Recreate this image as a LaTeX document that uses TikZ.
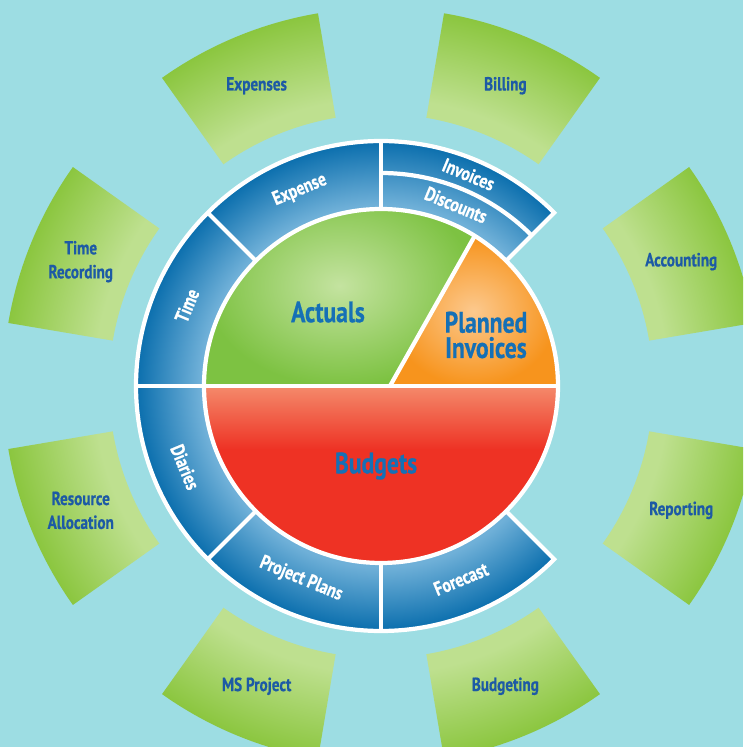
\documentclass[tikz,border=0pt]{standalone}
\usepackage{fontspec}
\setmainfont{PT Sans}[FakeStretch=0.8, BoldFeatures={FakeBold=0.6}]
\definecolor{bgcyan}{HTML}{9DDDE3}
\definecolor{tiledark}{HTML}{8BC63F}
\definecolor{tilelight}{HTML}{BEE08F}
\definecolor{tiletext}{HTML}{1D5AA5}
\definecolor{ringdark}{HTML}{0A6EAD}
\definecolor{ringlight}{HTML}{6FB0D8}
\definecolor{pietext}{HTML}{1570B6}
\definecolor{actdark}{HTML}{7DC242}
\definecolor{actlight}{HTML}{C4E3A0}
\definecolor{plandark}{HTML}{F7941D}
\definecolor{planlight}{HTML}{FCC98E}
\definecolor{budmain}{HTML}{EE3224}
\definecolor{budlight}{HTML}{F48A6B}
\pgfdeclareradialshading{tileshade}{\pgfpoint{0bp}{0bp}}{color(0bp)=(tilelight); color(19bp)=(tilelight); color(25bp)=(tiledark); color(50bp)=(tiledark)}
\pgfdeclareradialshading{ringshade}{\pgfpoint{0bp}{0bp}}{color(0bp)=(ringlight); color(18.5bp)=(ringlight); color(25bp)=(ringdark); color(50bp)=(ringdark)}
\pgfdeclareverticalshading{budgetshade}{100bp}{color(0bp)=(budmain); color(57bp)=(budmain); color(75bp)=(budlight); color(100bp)=(budlight)}
\tikzset{
  tilelabel/.style={text=tiletext, font=\bfseries\fontsize{13.5}{17}\selectfont, align=center},
  ringlabel/.style={text=white, font=\bfseries\fontsize{14}{15}\selectfont},
  pielabel/.style={text=pietext, font=\bfseries\fontsize{21}{18}\selectfont, align=center},
  whiteline/.style={draw=white, line width=3pt}
}
\begin{document}
\begin{tikzpicture}[x=0.025cm, y=0.025cm]
  \useasboundingbox (-381,-361) rectangle (362,386);
  \clip (-381,-361) rectangle (362,386);
  \fill[bgcyan] (-381,-361) rectangle (362,386);
  % outer tiles
  \begin{scope}
    \clip \foreach \a in {22.5,67.5,...,337.5} {({\a-12.9}:272) -- ({\a-12.9}:378) arc[start angle=\a-12.9, end angle=\a+12.9, radius=378] -- ({\a+12.9}:272) arc[start angle=\a+12.9, end angle=\a-12.9, radius=272] -- cycle};
    \shade[shading=tileshade] (0,0) circle (378);
  \end{scope}
  % blue ring
  \begin{scope}
    \clip (45:177) -- (45:245) arc[start angle=45, end angle=315, radius=245] -- (315:177) arc[start angle=315, end angle=45, radius=177] -- cycle;
    \shade[shading=ringshade] (0,0) circle (245);
  \end{scope}
  % pie
  \coordinate (hub) at (9,0);
  \coordinate (cut) at (58:176);
  \shade[inner color=actlight, outer color=actdark] (hub) -- (cut) arc[start angle=58, end angle=180, radius=176] -- cycle;
  \shade[inner color=planlight, outer color=plandark] (hub) -- (cut) arc[start angle=58, end angle=0, radius=176] -- cycle;
  \shade[shading=budgetshade] (176,0) arc[start angle=0, end angle=-180, radius=176] -- cycle;
  % white borders
  \draw[whiteline] (0,0) circle (177);
  \draw[whiteline] (45:177) -- (45:245) arc[start angle=45, end angle=315, radius=245] -- (315:177);
  \draw[whiteline] (-245,0) -- (176,0);
  \draw[whiteline] (hub) -- (cut);
  \foreach \a in {90,135,225,270} \draw[whiteline] (\a:177) -- (\a:245);
  \draw[whiteline] (45:213) arc[start angle=45, end angle=90, radius=213];
  % labels
  \node[pielabel] (actuals) at (-53,74) {Actuals};
  \node[pielabel] (planned) at (105,51) {Planned\\Invoices};
  \node[pielabel] (budgets) at (-5,-80) {Budgets};
  \node[ringlabel, rotate=-22.5] (invoices) at (67.5:229) {Invoices};
  \node[ringlabel, rotate=-22.5] (discounts) at (67.5:196) {Discounts};
  \node[ringlabel, rotate=22.5] (expense) at (112.5:212) {Expense};
  \node[ringlabel, rotate=67.5] (time) at (157.5:210) {Time};
  \node[ringlabel, rotate=-67.5] (diaries) at (202.5:212) {Diaries};
  \node[ringlabel, rotate=-22.5] (plans) at (247.5:209) {Project Plans};
  \node[ringlabel, rotate=22.5] (forecast) at (292.5:209) {Forecast};
  \foreach \a/\txt [count=\i] in {22.5/Accounting, 67.5/Billing, 112.5/Expenses, 157.5/{Time\\Recording}, 202.5/{Resource\\Allocation}, 247.5/MS Project, 292.5/Budgeting, 337.5/Reporting}
    \node[tilelabel] (tile\i) at (\a:325) {\txt};
\end{tikzpicture}
\end{document}
